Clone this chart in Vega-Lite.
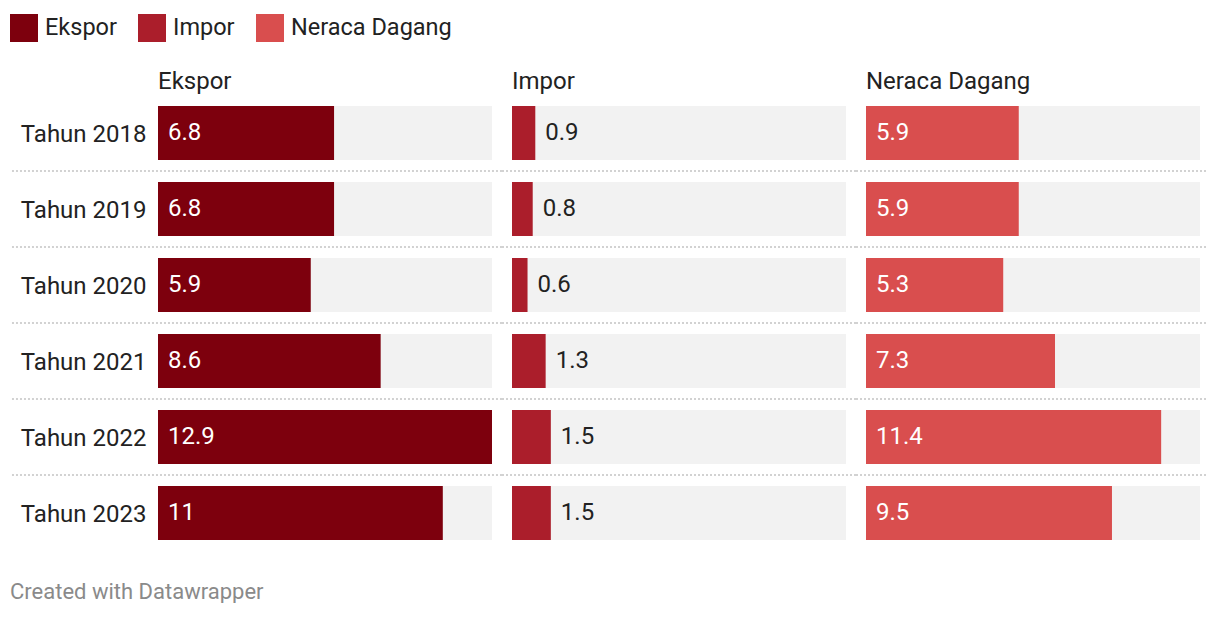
{
  "$schema": "https://vega.github.io/schema/vega-lite/v6.json",
  "padding": {"left": 10, "top": 14, "right": 0, "bottom": 0},
  "background": "white",
  "data": {"values": [
      {"year": "Tahun 2018", "measure": "Ekspor", "value": 6.8},
      {"year": "Tahun 2019", "measure": "Ekspor", "value": 6.8},
      {"year": "Tahun 2020", "measure": "Ekspor", "value": 5.9},
      {"year": "Tahun 2021", "measure": "Ekspor", "value": 8.6},
      {"year": "Tahun 2022", "measure": "Ekspor", "value": 12.9},
      {"year": "Tahun 2023", "measure": "Ekspor", "value": 11},
      {"year": "Tahun 2018", "measure": "Impor", "value": 0.9},
      {"year": "Tahun 2019", "measure": "Impor", "value": 0.8},
      {"year": "Tahun 2020", "measure": "Impor", "value": 0.6},
      {"year": "Tahun 2021", "measure": "Impor", "value": 1.3},
      {"year": "Tahun 2022", "measure": "Impor", "value": 1.5},
      {"year": "Tahun 2023", "measure": "Impor", "value": 1.5},
      {"year": "Tahun 2018", "measure": "Neraca Dagang", "value": 5.9},
      {"year": "Tahun 2019", "measure": "Neraca Dagang", "value": 5.9},
      {"year": "Tahun 2020", "measure": "Neraca Dagang", "value": 5.3},
      {"year": "Tahun 2021", "measure": "Neraca Dagang", "value": 7.3},
      {"year": "Tahun 2022", "measure": "Neraca Dagang", "value": 11.4},
      {"year": "Tahun 2023", "measure": "Neraca Dagang", "value": 9.5}
  ]},
  "title": {
    "text": "Created with Datawrapper",
    "orient": "bottom",
    "anchor": "start",
    "frame": "bounds",
    "fontSize": 22,
    "fontWeight": "normal",
    "color": "#8a8a8a",
    "offset": 42
  },
  "spacing": -2,
  "hconcat": [
    {
      "width": 334,
      "height": 434,
      "title": {"text": "Ekspor"},
      "transform": [{"filter": "datum.measure === 'Ekspor'"}],
      "encoding": {
        "y": {"field": "year", "type": "nominal", "sort": null,
              "scale": {"paddingInner": 0.2895, "paddingOuter": 0},
              "axis": {"title": null, "domain": false, "ticks": false, "labelFontSize": 24, "labelColor": "#222222", "labelPadding": 12, "labelOffset": 2, "labelFont": "Roboto"}}
      },
      "layer": [
        {"transform": [{"filter": "datum.year !== 'Tahun 2023'"}],
         "mark": {"type": "rule", "color": "#d2d2d2", "strokeWidth": 2, "strokeDash": [2, 2]},
         "encoding": {"y": {"field": "year", "type": "nominal", "sort": null, "bandPosition": 1.2037},
                      "x": {"datum": -5.64, "type": "quantitative", "scale": {"domain": [0, 12.9], "nice": false}, "axis": null},
                      "x2": {"datum": 13.286}}},
        {"mark": {"type": "bar", "color": "#f2f2f2"},
         "encoding": {"x": {"datum": 0, "type": "quantitative", "scale": {"domain": [0, 12.9], "nice": false}, "axis": null}, "x2": {"datum": 12.9}}},
        {"mark": {"type": "bar"},
         "encoding": {"x": {"field": "value", "type": "quantitative", "scale": {"domain": [0, 12.9], "nice": false}, "axis": null},
                      "color": {"field": "measure", "type": "nominal", "scale": {"domain": ["Ekspor", "Impor", "Neraca Dagang"], "range": ["#7d000d", "#ab1e2b", "#d94e4e"]},
                                "legend": {"title": null, "orient": "none", "legendX": -148, "legendY": -92, "direction": "horizontal"}}}},
        {"transform": [{"filter": "datum.value >= 3"}],
         "mark": {"type": "text", "align": "left", "baseline": "middle", "dx": 10, "fontSize": 24, "color": "white", "font": "Roboto"},
         "encoding": {"x": {"datum": 0, "type": "quantitative"}, "text": {"field": "value", "type": "quantitative"}}},
        {"transform": [{"filter": "datum.value < 3"}],
         "mark": {"type": "text", "align": "left", "baseline": "middle", "dx": 10, "fontSize": 24, "color": "#222222", "font": "Roboto"},
         "encoding": {"x": {"field": "value", "type": "quantitative"}, "text": {"field": "value", "type": "quantitative"}}}
      ]
    },
    {
      "width": 334,
      "height": 434,
      "title": {"text": "Impor"},
      "transform": [{"filter": "datum.measure === 'Impor'"}],
      "encoding": {
        "y": {"field": "year", "type": "nominal", "sort": null,
              "scale": {"paddingInner": 0.2895, "paddingOuter": 0}, "axis": null}
      },
      "layer": [
        {"transform": [{"filter": "datum.year !== 'Tahun 2023'"}],
         "mark": {"type": "rule", "color": "#d2d2d2", "strokeWidth": 2, "strokeDash": [2, 2]},
         "encoding": {"y": {"field": "year", "type": "nominal", "sort": null, "bandPosition": 1.2037},
                      "x": {"datum": -0.386, "type": "quantitative", "scale": {"domain": [0, 12.9], "nice": false}, "axis": null},
                      "x2": {"datum": 13.286}}},
        {"mark": {"type": "bar", "color": "#f2f2f2"},
         "encoding": {"x": {"datum": 0, "type": "quantitative", "scale": {"domain": [0, 12.9], "nice": false}, "axis": null}, "x2": {"datum": 12.9}}},
        {"mark": {"type": "bar"},
         "encoding": {"x": {"field": "value", "type": "quantitative", "scale": {"domain": [0, 12.9], "nice": false}, "axis": null},
                      "color": {"field": "measure", "type": "nominal", "scale": {"domain": ["Ekspor", "Impor", "Neraca Dagang"], "range": ["#7d000d", "#ab1e2b", "#d94e4e"]},
                                "legend": {"title": null, "orient": "none", "legendX": -148, "legendY": -92, "direction": "horizontal"}}}},
        {"transform": [{"filter": "datum.value >= 3"}],
         "mark": {"type": "text", "align": "left", "baseline": "middle", "dx": 10, "fontSize": 24, "color": "white", "font": "Roboto"},
         "encoding": {"x": {"datum": 0, "type": "quantitative"}, "text": {"field": "value", "type": "quantitative"}}},
        {"transform": [{"filter": "datum.value < 3"}],
         "mark": {"type": "text", "align": "left", "baseline": "middle", "dx": 10, "fontSize": 24, "color": "#222222", "font": "Roboto"},
         "encoding": {"x": {"field": "value", "type": "quantitative"}, "text": {"field": "value", "type": "quantitative"}}}
      ]
    },
    {
      "width": 334,
      "height": 434,
      "title": {"text": "Neraca Dagang"},
      "transform": [{"filter": "datum.measure === 'Neraca Dagang'"}],
      "encoding": {
        "y": {"field": "year", "type": "nominal", "sort": null,
              "scale": {"paddingInner": 0.2895, "paddingOuter": 0}, "axis": null}
      },
      "layer": [
        {"transform": [{"filter": "datum.year !== 'Tahun 2023'"}],
         "mark": {"type": "rule", "color": "#d2d2d2", "strokeWidth": 2, "strokeDash": [2, 2]},
         "encoding": {"y": {"field": "year", "type": "nominal", "sort": null, "bandPosition": 1.2037},
                      "x": {"datum": -0.386, "type": "quantitative", "scale": {"domain": [0, 12.9], "nice": false}, "axis": null},
                      "x2": {"datum": 13.209}}},
        {"mark": {"type": "bar", "color": "#f2f2f2"},
         "encoding": {"x": {"datum": 0, "type": "quantitative", "scale": {"domain": [0, 12.9], "nice": false}, "axis": null}, "x2": {"datum": 12.9}}},
        {"mark": {"type": "bar"},
         "encoding": {"x": {"field": "value", "type": "quantitative", "scale": {"domain": [0, 12.9], "nice": false}, "axis": null},
                      "color": {"field": "measure", "type": "nominal", "scale": {"domain": ["Ekspor", "Impor", "Neraca Dagang"], "range": ["#7d000d", "#ab1e2b", "#d94e4e"]},
                                "legend": {"title": null, "orient": "none", "legendX": -148, "legendY": -92, "direction": "horizontal"}}}},
        {"transform": [{"filter": "datum.value >= 3"}],
         "mark": {"type": "text", "align": "left", "baseline": "middle", "dx": 10, "fontSize": 24, "color": "white", "font": "Roboto"},
         "encoding": {"x": {"datum": 0, "type": "quantitative"}, "text": {"field": "value", "type": "quantitative"}}},
        {"transform": [{"filter": "datum.value < 3"}],
         "mark": {"type": "text", "align": "left", "baseline": "middle", "dx": 10, "fontSize": 24, "color": "#222222", "font": "Roboto"},
         "encoding": {"x": {"field": "value", "type": "quantitative"}, "text": {"field": "value", "type": "quantitative"}}}
      ]
    }
  ],
  "config": {
    "font": "Roboto",
    "view": {"stroke": null},
    "title": {"anchor": "start", "frame": "group", "fontSize": 24, "fontWeight": "normal", "color": "#222222", "offset": 12, "baseline": "alphabetic", "font": "Roboto"},
    "legend": {
      "symbolType": "square",
      "symbolSize": 784,
      "symbolStrokeWidth": 0,
      "symbolOpacity": 1,
      "labelFontSize": 23.5,
      "labelColor": "#222222",
      "labelFont": "Roboto",
      "labelOffset": 7,
      "labelLimit": 400,
      "columnPadding": 21
    }
  }
}
